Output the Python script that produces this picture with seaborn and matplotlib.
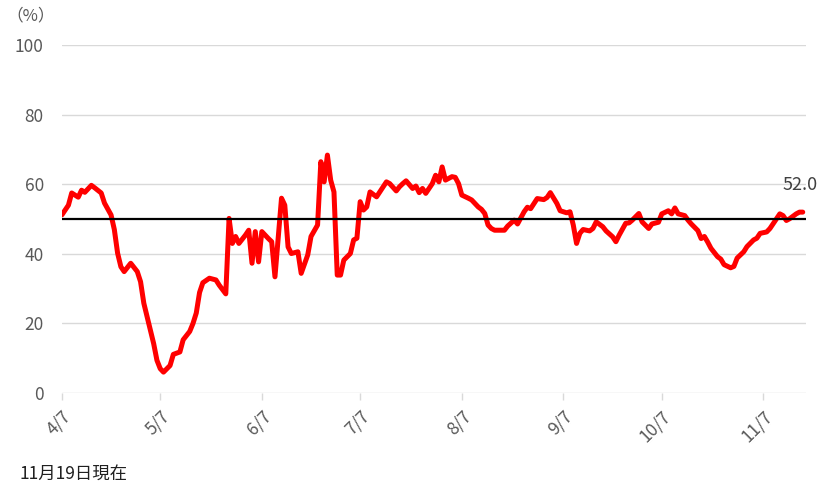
import matplotlib
matplotlib.use("Agg")
import matplotlib.pyplot as plt
import seaborn as sns
import pandas as pd

# Data (days after 2020-04-07, value in %)
day_offsets = [0, 2, 3, 5, 6, 7, 9, 10, 12, 13, 15, 16, 17, 18, 19, 21, 23, 24, 25, 27,
               28, 29, 30, 31, 33, 34, 36, 37, 39, 40, 41, 42, 43, 45, 47, 48, 50, 51, 52, 53,
               54, 56, 57, 58, 59, 60, 61, 63, 64, 65, 67, 68, 69, 70, 72, 73, 75, 76, 78, 79,
               80, 81, 82, 83, 84, 85, 86, 88, 89, 90, 91, 92, 93, 94, 96, 98, 99, 100, 102, 103,
               104, 105, 107, 108, 109, 110, 111, 113, 114, 115, 116, 117, 118, 119, 120, 121, 122, 124, 125, 127,
               128, 129, 130, 131, 132, 133, 135, 136, 138, 139, 141, 142, 143, 145, 147, 148, 149, 151, 152, 154,
               155, 156, 157, 158, 159, 161, 162, 163, 165, 166, 168, 169, 170, 172, 173, 174, 176, 177, 179, 180,
               182, 183, 185, 186, 187, 188, 190, 191, 192, 194, 195, 196, 197, 198, 200, 201, 202, 204, 205, 206,
               208, 209, 211, 212, 213, 215, 216, 217, 219, 220, 221, 222, 224, 225, 226]
values = [51.2, 54.0, 57.5, 56.3, 58.3, 57.7, 59.7, 59.0, 57.5, 54.6, 51.2, 47.0, 40.2, 36.3, 34.9, 37.3, 34.9, 32.0, 25.8, 18.0,
          14.2, 9.4, 7.0, 6.0, 7.9, 11.1, 11.8, 15.3, 17.7, 20.0, 23.0, 28.9, 31.7, 33.0, 32.5, 31.0, 28.5, 50.2, 43.0, 45.0,
          43.0, 45.4, 46.8, 37.3, 46.4, 37.7, 46.4, 44.4, 43.5, 33.4, 56.0, 54.0, 42.0, 40.1, 40.6, 34.4, 39.7, 45.0, 48.3, 66.5,
          60.7, 68.4, 61.2, 57.8, 33.9, 33.9, 38.2, 40.1, 44.0, 44.5, 55.0, 52.6, 53.5, 57.8, 56.4, 59.3, 60.7, 60.2, 58.1, 59.3,
          60.2, 61.0, 58.8, 59.5, 57.6, 58.8, 57.4, 60.2, 62.6, 60.7, 65.0, 61.2, 61.7, 62.2, 62.0, 60.2, 56.9, 56.0, 55.5, 53.5,
          52.8, 51.6, 48.3, 47.3, 46.8, 46.8, 46.8, 48.0, 49.7, 48.6, 52.1, 53.4, 53.0, 55.9, 55.6, 56.2, 57.6, 54.5, 52.4, 51.8,
          52.1, 48.3, 43.0, 45.9, 47.0, 46.6, 47.3, 49.2, 47.8, 46.6, 44.9, 43.5, 45.4, 48.8, 48.9, 49.7, 51.6, 49.2, 47.3, 48.6,
          49.1, 51.5, 52.4, 51.5, 53.2, 51.5, 51.0, 49.7, 48.6, 46.7, 44.4, 45.0, 43.4, 41.6, 39.2, 38.5, 36.9, 36.0, 36.4, 38.8,
          40.6, 42.1, 44.0, 44.5, 45.9, 46.3, 47.3, 48.7, 51.5, 51.0, 49.6, 50.1, 51.5, 52.0, 52.0]
reference_level = 50
tick_dates = ["2020-04-07", "2020-05-07", "2020-06-07", "2020-07-07",
              "2020-08-07", "2020-09-07", "2020-10-07", "2020-11-07"]
tick_labels = ["4/7", "5/7", "6/7", "7/7", "8/7", "9/7", "10/7", "11/7"]
last_label = "52.0"
unit_label = "（%）"
note_text = "11月19日現在"

start = pd.Timestamp("2020-04-07")
df = pd.DataFrame({"date": [start + pd.Timedelta(days=d) for d in day_offsets],
                   "value": values})

sns.set_style("white")
plt.rcParams["font.family"] = ["Noto Sans CJK JP", "DejaVu Sans"]

fig = plt.figure(figsize=(8.25, 4.91), dpi=100)
ax = fig.add_axes([0.075, 0.1996, 0.902, 0.7084])

grey_txt = "#595959"
ax.set_ylim(0, 100)
ax.set_yticks([0, 20, 40, 60, 80, 100])
ax.yaxis.grid(True, color="#d9d9d9", linewidth=1.0)
ax.xaxis.grid(False)
for s in ax.spines.values():
    s.set_visible(False)

sns.lineplot(data=df, x="date", y="value", ax=ax, color="#ff0000",
             linewidth=3.6, solid_joinstyle="round", zorder=3)
ax.axhline(reference_level, color="black", linewidth=1.6, zorder=4)

x0 = df["date"].iloc[0]
x1 = df["date"].iloc[-1] + pd.Timedelta(days=1)
ax.set_xlim(x0, x1)

ax.set_xticks(pd.to_datetime(tick_dates))
ax.set_xticklabels(tick_labels, rotation=45, ha="right", rotation_mode="anchor",
                   color=grey_txt, fontsize=12.5)
ax.tick_params(axis="x", length=5, color="#d9d9d9", width=1, pad=5, bottom=True)
ax.tick_params(axis="y", length=0, pad=13, labelcolor=grey_txt, labelsize=12.5)
ax.set_xlabel("")
ax.set_ylabel("")

ax.annotate(last_label, xy=(df["date"].iloc[-1], values[-1]), xytext=(-2, 13),
            textcoords="offset points", ha="center", va="bottom",
            color="#404040", fontsize=13)

fig.text(0.008, 0.968, unit_label, color=grey_txt, fontsize=12, ha="left", va="center")
fig.text(0.024, 0.035, note_text, color="#202020", fontsize=12.5, ha="left", va="center")

fig.savefig("out.png", dpi=100)
